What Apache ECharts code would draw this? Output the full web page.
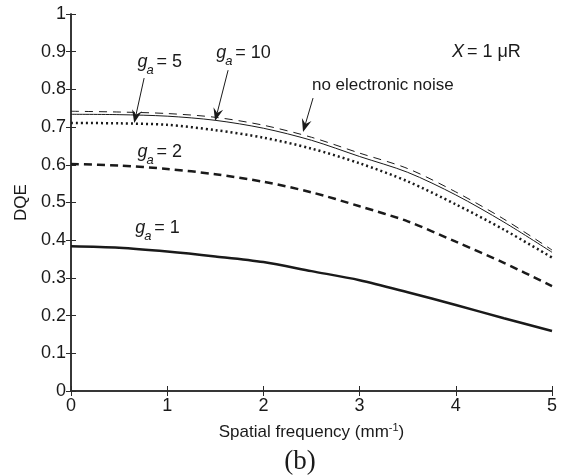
<!DOCTYPE html>
<html>
<head>
<meta charset="utf-8">
<script src="https://cdn.jsdelivr.net/npm/echarts@6/dist/echarts.min.js"></script>
<style>
html, body { margin: 0; padding: 0; background: #fff; }
#main { width: 561px; height: 476px; }
</style>
</head>
<body>
<div id="main"></div>
<script>
// spatial frequency (mm^-1)
var freq = [0, 0.5, 1, 1.5, 2, 2.5, 3, 3.5, 4, 4.5, 5];
// DQE curves
var dqeGain1 = [0.384, 0.380, 0.370, 0.357, 0.342, 0.318, 0.294, 0.262, 0.228, 0.193, 0.159];
var dqeGain2 = [0.602, 0.598, 0.589, 0.575, 0.555, 0.527, 0.490, 0.450, 0.396, 0.340, 0.278];
var dqeGain5 = [0.711, 0.710, 0.706, 0.692, 0.672, 0.643, 0.604, 0.556, 0.495, 0.428, 0.354];
var dqeGain10 = [0.734, 0.733, 0.729, 0.718, 0.697, 0.665, 0.622, 0.580, 0.520, 0.448, 0.368];
var dqeNoNoise = [0.742, 0.740, 0.736, 0.726, 0.705, 0.673, 0.631, 0.590, 0.528, 0.456, 0.374];

// annotations, in data coordinates
var gainLabels = [['5', 0.69, 0.872], ['10', 1.51, 0.896], ['2', 0.69, 0.634], ['1', 0.668, 0.432]];
var arrows = [[0.76, 0.830, 0.657, 0.711], [1.633, 0.851, 1.498, 0.716], [2.516, 0.777, 2.412, 0.687]];
var noiseLabel = ['no electronic noise', 2.505, 0.812];
var exposureLabel = [3.96, 0.899];

var font = 'Liberation Sans, Arial, sans-serif';
var ink = '#1a1a1a';

function pairs(ys) {
	return freq.map(function (f, i) { return [f, ys[i]]; });
}

var chart = echarts.init(document.getElementById('main'));

var axisLine = { show: true, lineStyle: { color: '#2a2a2a', width: 1.5 } };
var tick = { show: true, inside: true, length: 5, lineStyle: { color: '#2a2a2a', width: 1 } };

var option = {
	backgroundColor: '#fff',
	animation: false,
	grid: { left: 71, right: 9, top: 14, bottom: 85 },
	xAxis: [
		{
			type: 'value', min: 0, max: 5, interval: 1,
			name: 'Spatial frequency (mm{sup|-1})',
			nameLocation: 'middle', nameGap: 31,
			nameTextStyle: {
				color: ink, fontFamily: font, fontSize: 17,
				rich: { sup: { fontSize: 11, color: ink, fontFamily: font, padding: [0, 0, 10, 0] } }
			},
			axisLine: axisLine, axisTick: tick, splitLine: { show: false },
			axisLabel: { color: ink, fontFamily: font, fontSize: 18, margin: 6 }
		},
		{
			type: 'value', min: 0, max: 5, interval: 1, position: 'top',
			axisLine: axisLine, axisTick: tick, splitLine: { show: false },
			axisLabel: { show: false }
		}
	],
	yAxis: [
		{
			type: 'value', min: 0, max: 1, interval: 0.1,
			name: 'DQE', nameLocation: 'middle', nameGap: 38,
			nameTextStyle: { color: ink, fontFamily: font, fontSize: 17 },
			axisLine: axisLine, axisTick: tick, splitLine: { show: false },
			axisLabel: {
				color: ink, fontFamily: font, fontSize: 18, margin: 5,
				formatter: function (v) { return v === 0 || v === 1 ? String(v) : v.toFixed(1); }
			}
		},
		{
			type: 'value', min: 0, max: 1, interval: 0.1, position: 'right',
			axisLine: axisLine, axisTick: tick, splitLine: { show: false },
			axisLabel: { show: false }
		}
	],
	series: [
		{
			name: 'ga = 1', type: 'line', data: pairs(dqeGain1), showSymbol: false, smooth: 0.3,
			lineStyle: { color: ink, width: 2.5 }
		},
		{
			name: 'ga = 2', type: 'line', data: pairs(dqeGain2), showSymbol: false, smooth: 0.3,
			lineStyle: { color: ink, width: 2.5, type: [8, 5] }
		},
		{
			name: 'ga = 5', type: 'line', data: pairs(dqeGain5), showSymbol: false, smooth: 0.3,
			lineStyle: { color: ink, width: 2.5, type: [2, 3] }
		},
		{
			name: 'ga = 10', type: 'line', data: pairs(dqeGain10), showSymbol: false, smooth: 0.3,
			lineStyle: { color: ink, width: 1 }
		},
		{
			name: 'no electronic noise', type: 'line', data: pairs(dqeNoNoise), showSymbol: false, smooth: 0.3,
			lineStyle: { color: ink, width: 1, type: [8, 6] }
		}
	]
};
chart.setOption(option);

function px(x, y) {
	return chart.convertToPixel({ xAxisIndex: 0, yAxisIndex: 0 }, [x, y]);
}

var graphics = [];

gainLabels.forEach(function (g) {
	var p = px(g[1], g[2]);
	graphics.push({ type: 'text', x: p[0], y: p[1], silent: true,
		style: { text: 'g', fill: ink, fontFamily: font, fontSize: 18, fontStyle: 'italic', verticalAlign: 'middle' } });
	graphics.push({ type: 'text', x: p[0] + 9, y: p[1] + 8, silent: true,
		style: { text: 'a', fill: ink, fontFamily: font, fontSize: 13, fontStyle: 'italic', verticalAlign: 'middle' } });
	graphics.push({ type: 'text', x: p[0] + 19, y: p[1], silent: true,
		style: { text: '= ' + g[0], fill: ink, fontFamily: font, fontSize: 18, verticalAlign: 'middle' } });
});

arrows.forEach(function (a) {
	var s = px(a[0], a[1]);
	var e = px(a[2], a[3]);
	var dx = e[0] - s[0], dy = e[1] - s[1];
	var len = Math.sqrt(dx * dx + dy * dy);
	dx /= len; dy /= len;
	var L = 13, w = 5;
	var bx = e[0] - dx * L, by = e[1] - dy * L;
	var nx = -dy, ny = dx;
	var notch = [e[0] - dx * L * 0.65, e[1] - dy * L * 0.65];
	graphics.push({ type: 'line', silent: true,
		shape: { x1: s[0], y1: s[1], x2: notch[0], y2: notch[1] },
		style: { stroke: ink, lineWidth: 1 } });
	graphics.push({ type: 'polygon', silent: true,
		shape: { points: [e, [bx + nx * w, by + ny * w], notch, [bx - nx * w, by - ny * w]] },
		style: { fill: ink } });
});

var np = px(noiseLabel[1], noiseLabel[2]);
graphics.push({ type: 'text', x: np[0], y: np[1], silent: true,
	style: { text: noiseLabel[0], fill: ink, fontFamily: font, fontSize: 17, verticalAlign: 'middle' } });

var ep = px(exposureLabel[0], exposureLabel[1]);
graphics.push({ type: 'text', x: ep[0], y: ep[1], silent: true,
	style: { text: 'X', fill: ink, fontFamily: font, fontSize: 18, fontStyle: 'italic', verticalAlign: 'middle' } });
graphics.push({ type: 'text', x: ep[0] + 15, y: ep[1], silent: true,
	style: { text: '= 1 \u03bcR', fill: ink, fontFamily: font, fontSize: 18, verticalAlign: 'middle' } });

graphics.push({ type: 'text', x: 300, y: 462, silent: true,
	style: { text: '(b)', fill: ink, fontFamily: 'Liberation Serif, Times New Roman, serif', fontSize: 27,
		align: 'center', verticalAlign: 'middle' } });

chart.setOption({ graphic: graphics });
</script>
</body>
</html>
